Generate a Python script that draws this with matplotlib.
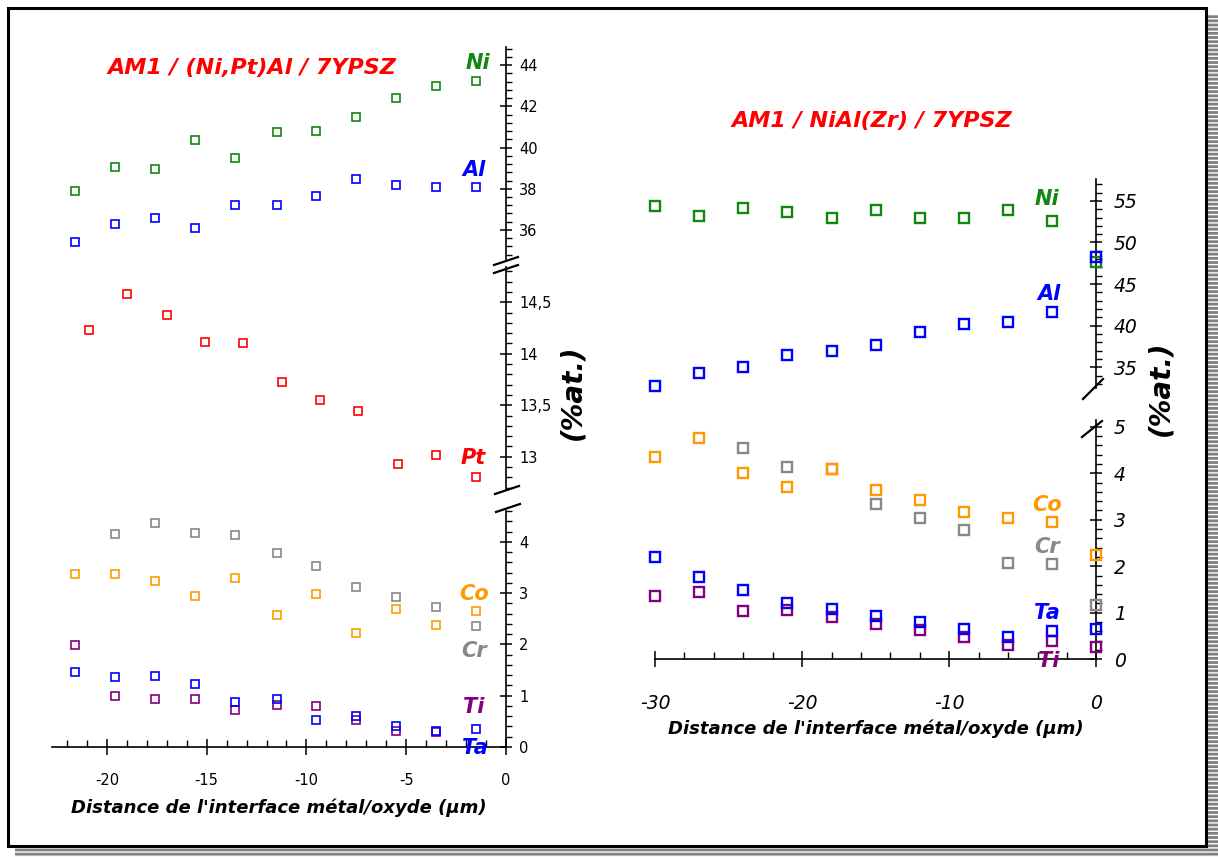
"""Concentration profiles across the metal/oxide interface, two coatings side by side."""

import numpy as np
import matplotlib
matplotlib.use("Agg")
import matplotlib.pyplot as plt
from matplotlib.lines import Line2D
from matplotlib.patches import Rectangle
from matplotlib.ticker import MultipleLocator, AutoMinorLocator, FuncFormatter

W, H = 1218, 857
nan = np.nan

# AM1 / (Ni,Pt)Al / 7YPSZ  (left panel)
left_x = [-21.6, -19.6, -17.6, -15.6, -13.6, -11.5, -9.5, -7.5, -5.5, -3.5, -1.5]
left_pt_x = [-20.9, -19.0, -17.0, -15.1, -13.2, -11.2, -9.3, -7.4, -5.4, -3.5, -1.5]
left_ni = [37.89, 39.06, 38.98, 40.37, 39.5, 40.74, 40.82, 41.47, 42.43, 43.0, 43.22]
left_al = [35.42, 36.29, 36.57, 36.08, 37.23, 37.23, 37.67, 38.48, 38.17, 38.1, 38.1]
left_pt = [14.23, 14.58, 14.38, 14.11, 14.10, 13.73, 13.55, 13.44, 12.93, 13.02, 12.80]
left_co = [3.38, 3.38, 3.24, 2.94, 3.29, 2.57, 2.98, 2.23, 2.69, 2.37, 2.66]
left_cr = [nan, 4.16, 4.36, 4.18, 4.13, 3.78, 3.52, 3.12, 2.92, 2.72, 2.35]
left_ti = [1.99, 0.99, 0.93, 0.93, 0.73, 0.81, 0.79, 0.53, 0.32, 0.29, nan]
left_ta = [1.47, 1.36, 1.39, 1.22, 0.88, 0.93, 0.53, 0.60, 0.40, 0.32, 0.36]

# AM1 / NiAl(Zr) / 7YPSZ  (right panel)
right_x = [-30, -27, -24, -21, -18, -15, -12, -9, -6, -3, 0]
right_ni = [54.4, 53.24, 54.2, 53.72, 53.0, 53.96, 53.0, 53.0, 53.96, 52.56, 47.7]
right_al = [32.7, 34.36, 35.08, 36.48, 36.92, 37.65, 39.29, 40.17, 40.41, 41.61, 48.3]
right_co = [4.34, 4.76, 4.01, 3.71, 4.09, 3.63, 3.42, 3.16, 3.04, 2.95, 2.24]
right_cr = [nan, nan, 4.54, 4.13, 4.09, 3.33, 3.04, 2.79, 2.07, 2.04, 1.16]
right_ta = [2.2, 1.78, 1.49, 1.22, 1.08, 0.93, 0.80, 0.66, 0.47, 0.61, 0.65]
right_ti = [1.36, 1.45, 1.03, 1.06, 0.92, 0.76, 0.63, 0.47, 0.30, 0.40, 0.27]

GREEN, BLUE, RED = "#118811", "#0000ff", "#ff0000"
ORANGE, GRAY, PURPLE = "#ff9900", "#888888", "#800080"
XLABEL = "Distance de l'interface métal/oxyde (µm)"

plt.rcParams["font.family"] = "DejaVu Sans"
plt.rcParams["axes.unicode_minus"] = False
fig = plt.figure(figsize=(W / 100, H / 100), dpi=100)


def px_box(l, t, r, b):
    return [l / W, 1 - b / H, (r - l) / W, (b - t) / H]


def fx(x):
    return x / W


def fy(y):
    return 1 - y / H


# frame with striped shadow
shadow = Rectangle((fx(15), fy(857)), fx(1218) - fx(15), fy(14) - fy(857),
                   transform=fig.transFigure, facecolor="#808080", edgecolor="white",
                   hatch="----", linewidth=0, zorder=0)
fig.add_artist(shadow)
fig.add_artist(Rectangle((fx(8), fy(846)), fx(1206) - fx(8), fy(8) - fy(846),
                         transform=fig.transFigure, facecolor="white", edgecolor="black",
                         linewidth=2.2, zorder=1))


def make_ax(box, xlim, ylim, bottom=False, fs=10.5, xpad=8):
    ax = fig.add_axes(px_box(*box), zorder=3)
    ax.patch.set_visible(False)
    ax.set_xlim(*xlim)
    ax.set_ylim(*ylim)
    for s in ["top", "left"]:
        ax.spines[s].set_visible(False)
    ax.spines["bottom"].set_visible(bottom)
    ax.spines["right"].set_linewidth(1.2)
    ax.spines["bottom"].set_linewidth(1.2)
    ax.yaxis.tick_right()
    ax.yaxis.set_minor_locator(AutoMinorLocator(5))
    ax.tick_params(axis="y", which="major", direction="inout", length=9, width=1.1,
                   labelsize=fs, pad=5)
    ax.tick_params(axis="y", which="minor", direction="out", length=4, width=1.0)
    if bottom:
        ax.tick_params(axis="x", which="major", direction="inout", length=12, width=1.1,
                       labelsize=fs, pad=xpad)
        ax.tick_params(axis="x", which="minor", direction="in", length=5, width=1.0)
    else:
        ax.tick_params(axis="x", which="both", bottom=False, labelbottom=False)
    return ax


def squares(ax, x, y, color, ms, mew):
    ax.plot(x, y, linestyle="none", marker="s", markersize=ms, markerfacecolor="none",
            markeredgecolor=color, markeredgewidth=mew, clip_on=False, zorder=4)


def slash(x, y, dx, dy):
    fig.add_artist(Line2D([fx(x - dx), fx(x + dx)], [fy(y + dy), fy(y - dy)],
                          transform=fig.transFigure, color="black", linewidth=1.6, zorder=5))


# ---------- left panel ----------
lxlim = (-22.75, 0)
ax_lt = make_ax((52, 46.7, 506, 258.8), lxlim, (34.6, 44.9))
ax_lt.yaxis.set_major_locator(MultipleLocator(2))
ax_lm = make_ax((52, 267.2, 506, 489.7), lxlim, (12.68, 14.84))
ax_lm.yaxis.set_major_locator(MultipleLocator(0.5))
ax_lm.yaxis.set_major_formatter(FuncFormatter(lambda v, p: f"{v:g}".replace(".", ",")))
ax_lb = make_ax((52, 511, 506, 747), lxlim, (0, 4.6), bottom=True, xpad=13)
ax_lb.yaxis.set_major_locator(MultipleLocator(1))
ax_lb.xaxis.set_major_locator(MultipleLocator(5))
ax_lb.xaxis.set_minor_locator(MultipleLocator(1))
ax_lb.set_xlabel(XLABEL, fontsize=13, fontweight="bold", fontstyle="italic", labelpad=7)

squares(ax_lt, left_x, left_ni, GREEN, 5.8, 1.2)
squares(ax_lt, left_x, left_al, BLUE, 5.8, 1.2)
squares(ax_lm, left_pt_x, left_pt, RED, 5.8, 1.2)
squares(ax_lb, left_x, left_cr, GRAY, 5.8, 1.2)
squares(ax_lb, left_x, left_co, ORANGE, 5.8, 1.2)
squares(ax_lb, left_x, left_ti, PURPLE, 5.8, 1.2)
squares(ax_lb, left_x, left_ta, BLUE, 5.8, 1.2)

slash(506, 261, 12, 4)
slash(506, 269, 12, 4)
slash(507, 490, 12, 4)
slash(508, 508, 12, 4)

# ---------- right panel ----------
rxlim = (-30, 0)
ax_rt = make_ax((655, 179.3, 1096.5, 388), rxlim, (32.5, 57.6), fs=13.5)
ax_rt.yaxis.set_major_locator(MultipleLocator(5))
ax_rb = make_ax((655, 419.8, 1096.5, 659.3), rxlim, (0, 5.15), bottom=True, fs=13.5, xpad=19)
ax_rb.yaxis.set_major_locator(MultipleLocator(1))
ax_rb.xaxis.set_major_locator(MultipleLocator(10))
ax_rb.xaxis.set_minor_locator(MultipleLocator(2))
ax_rb.set_xlabel(XLABEL, fontsize=13, fontweight="bold", fontstyle="italic", labelpad=5)
for ax in (ax_rt, ax_rb):
    ax.tick_params(axis="y", which="major", pad=8)
    for lab in ax.get_yticklabels() + ax.get_xticklabels():
        lab.set_fontstyle("italic")

squares(ax_rt, right_x, right_ni, GREEN, 7.2, 1.7)
squares(ax_rt, right_x, right_al, BLUE, 7.2, 1.7)
squares(ax_rb, right_x, right_cr, GRAY, 7.2, 1.7)
squares(ax_rb, right_x, right_co, ORANGE, 7.2, 1.7)
squares(ax_rb, right_x, right_ti, PURPLE, 7.2, 1.7)
squares(ax_rb, right_x, right_ta, BLUE, 7.2, 1.7)

slash(1093, 389, 10, 10)
slash(1092, 429, 10, 8)

# titles, element labels and unit labels
lab_kw = dict(fontweight="bold", fontstyle="italic", ha="center", va="center", zorder=6)
fig.text(fx(252), fy(68), "AM1 / (Ni,Pt)Al / 7YPSZ", color=RED, fontsize=16, **lab_kw)
fig.text(fx(872), fy(121), "AM1 / NiAl(Zr) / 7YPSZ", color=RED, fontsize=16, **lab_kw)

left_labels = [("Ni", 478, 63, GREEN), ("Al", 474, 170, BLUE), ("Pt", 473, 458, RED),
               ("Co", 474, 594, ORANGE), ("Cr", 474, 651, GRAY), ("Ti", 474, 707, PURPLE),
               ("Ta", 475, 748, BLUE)]
right_labels = [("Ni", 1047, 199, GREEN), ("Al", 1049, 294, BLUE), ("Co", 1047, 505, ORANGE),
                ("Cr", 1047, 547, GRAY), ("Ta", 1047, 613, BLUE), ("Ti", 1049, 661, PURPLE)]
for txt, x, y, c in left_labels + right_labels:
    fig.text(fx(x), fy(y), txt, color=c, fontsize=15, **lab_kw)

fig.text(fx(572), fy(392), "(%at.)", rotation=90, fontsize=20, **lab_kw)
fig.text(fx(1160), fy(388), "(%at.)", rotation=90, fontsize=20, **lab_kw)

fig.savefig("out.png", dpi=100)
plt.close(fig)
